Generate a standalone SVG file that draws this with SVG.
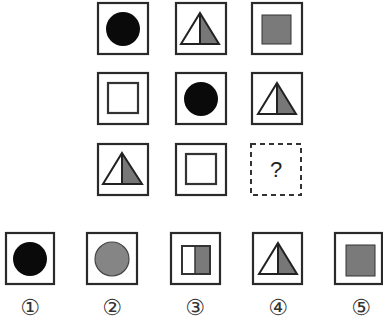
<svg xmlns="http://www.w3.org/2000/svg" width="383" height="324" viewBox="0 0 383 324">
<style>
.frame{fill:#fff;stroke:#2a2a2a;stroke-width:2.2}
.dash{fill:#fff;stroke:#333;stroke-width:2;stroke-dasharray:5,4}
.blk{fill:#0a0a0a}
.gry{fill:#7a7a7a;stroke:#333;stroke-width:1}
.half{fill:#777}
.tri{fill:none;stroke:#222;stroke-width:2}
.sq{fill:#fff;stroke:#333;stroke-width:2.2}
.lbl{font-family:"DejaVu Sans",sans-serif;font-size:22px;fill:#333;text-anchor:middle}
.q{font-family:"Liberation Sans",sans-serif;font-size:22px;fill:#222;text-anchor:middle}
</style>
<rect width="383" height="324" fill="#fff"/>
<g id="r1c1"><rect class="frame" x="98" y="3" width="50" height="51"/><circle class="blk" cx="123" cy="29" r="17"/></g>
<g id="r1c2"><rect class="frame" x="176" y="3" width="50" height="51"/><polygon class="half" points="200,13 219,44 200,44"/><polygon class="tri" points="200,13 219,44 181,44"/><line x1="200" y1="13" x2="200" y2="44" stroke="#222" stroke-width="2"/></g>
<g id="r1c3"><rect class="frame" x="252" y="3" width="50" height="51"/><rect class="gry" x="262" y="15" width="29" height="29"/></g>
<g id="r2c1"><rect class="frame" x="98" y="73" width="50" height="51"/><rect class="sq" x="108" y="83" width="30" height="30"/></g>
<g id="r2c2"><rect class="frame" x="176" y="73" width="50" height="51"/><circle class="blk" cx="201" cy="99" r="17"/></g>
<g id="r2c3"><rect class="frame" x="252" y="73" width="50" height="51"/><polygon class="half" points="277,83 296,114 277,114"/><polygon class="tri" points="277,83 296,114 258,114"/><line x1="277" y1="83" x2="277" y2="114" stroke="#222" stroke-width="2"/></g>
<g id="r3c1"><rect class="frame" x="98" y="144" width="50" height="51"/><polygon class="half" points="122,153 142,184 122,184"/><polygon class="tri" points="122,153 142,184 103,184"/><line x1="122" y1="153" x2="122" y2="184" stroke="#222" stroke-width="2"/></g>
<g id="r3c2"><rect class="frame" x="176" y="144" width="50" height="51"/><rect class="sq" x="186" y="154" width="30" height="30"/></g>
<g id="r3c3"><rect class="dash" x="251" y="144" width="50" height="51"/><text class="q" x="276" y="177">?</text></g>
<g id="opt1"><rect class="frame" x="6" y="233" width="48" height="51"/><circle class="blk" cx="30" cy="259" r="17"/><text class="lbl" x="30" y="315">①</text></g>
<g id="opt2"><rect class="frame" x="87" y="233" width="50" height="51"/><circle cx="112" cy="259" r="17" fill="#858585" stroke="#444" stroke-width="1.2"/><text class="lbl" x="112" y="315">②</text></g>
<g id="opt3"><rect class="frame" x="171" y="233" width="49" height="51"/><rect x="195" y="246" width="15" height="28" fill="#7a7a7a"/><rect x="182" y="246" width="28" height="28" style="fill:none;stroke:#333;stroke-width:2"/><line x1="195" y1="246" x2="195" y2="274" stroke="#333" stroke-width="1.5"/><text class="lbl" x="195" y="315">③</text></g>
<g id="opt4"><rect class="frame" x="253" y="233" width="49" height="51"/><polygon class="half" points="278,243 297,274 278,274"/><polygon class="tri" points="278,243 297,274 259,274"/><line x1="278" y1="243" x2="278" y2="274" stroke="#222" stroke-width="2"/><text class="lbl" x="278" y="315">④</text></g>
<g id="opt5"><rect class="frame" x="335" y="233" width="47" height="51"/><rect class="gry" x="346" y="245" width="29" height="31"/><text class="lbl" x="361" y="315">⑤</text></g>
<g id="connectors"></g>
</svg>
